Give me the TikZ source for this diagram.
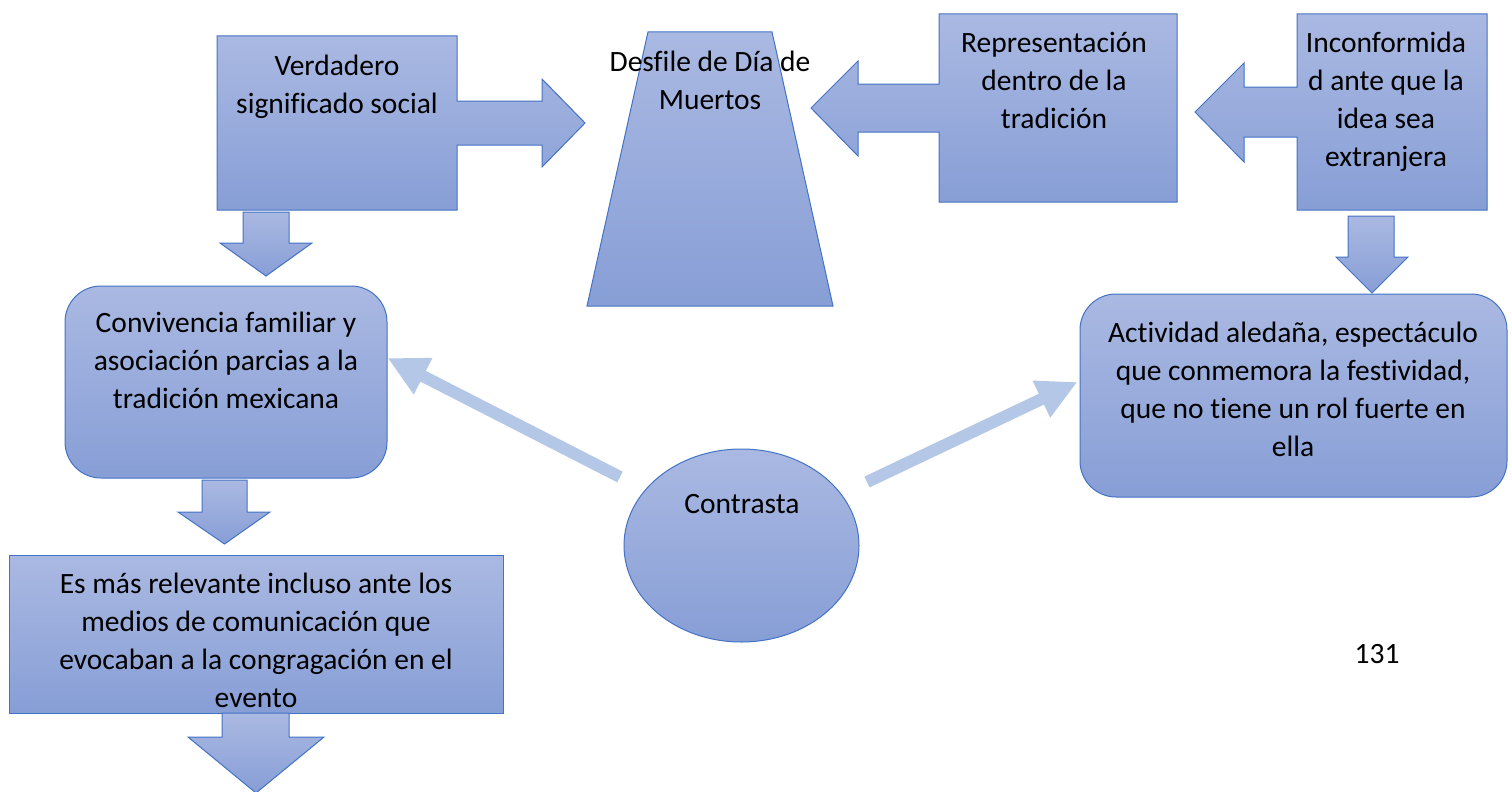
\documentclass[tikz,border=0pt]{standalone}
\usepackage{fontspec}
\setmainfont[Ligatures=NoCommon]{Carlito}
\usetikzlibrary{arrows.meta,shapes.geometric}
\definecolor{gtop}{RGB}{170,185,226}
\definecolor{gbot}{RGB}{135,158,214}
\definecolor{bordc}{RGB}{68,114,196}
\definecolor{connc}{RGB}{180,199,231}
\newcommand\firstln{\rule{0pt}{24pt}}
\begin{document}
\begin{tikzpicture}[x=1pt,y=-1pt,
  shp/.style={draw=bordc, line width=1pt, top color=gtop, bottom color=gbot, line join=miter},
  txt/.style={font=\fontsize{29.5}{38}\selectfont, align=center, inner sep=0pt, anchor=north, text=black},
  conn/.style={draw=connc, line width=12pt, -{Triangle[length=40pt 0 0, width=38pt 0 0]}}]
\fill[white] (0,0) rectangle (1512,792);
\useasboundingbox (0,0) rectangle (1512,792);

% Verdadero callout (right arrow)
\path[shp] (217,36) -- (457,36) -- (457,101) -- (542,101) -- (542,79) -- (585,123)
  -- (542,167) -- (542,145) -- (457,145) -- (457,210) -- (217,210) -- cycle;
% down arrow under Verdadero
\path[shp] (243,212) -- (289,212) -- (289,243) -- (312,243) -- (266,276) -- (220,243) -- (243,243) -- cycle;

% trapezoid
\path[shp] (648,32) -- (772,32) -- (833,306) -- (587,306) -- cycle;

% Representacion callout (left arrow)
\path[shp] (939,14) -- (1177,14) -- (1177,202) -- (939,202) -- (939,132) -- (858,132)
  -- (858,156) -- (811,108) -- (858,61) -- (858,84) -- (939,84) -- cycle;

% Inconformidad callout (left arrow)
\path[shp] (1297,14) -- (1487,14) -- (1487,210) -- (1297,210) -- (1297,137) -- (1244,137)
  -- (1244,162) -- (1195,112) -- (1244,63) -- (1244,87) -- (1297,87) -- cycle;
% down arrow under Inconformidad
\path[shp] (1348,216) -- (1394,216) -- (1394,257) -- (1408,257) -- (1372,293) -- (1336,257) -- (1348,257) -- cycle;

% rounded rectangles
\node[shp, rectangle, rounded corners=36pt, minimum width=322pt, minimum height=192pt, inner sep=0pt] (conv) at (226,382) {};
\node[shp, rectangle, rounded corners=36pt, minimum width=427pt, minimum height=203pt, inner sep=0pt] (act) at (1293.5,395.5) {};

% down arrow under Convivencia
\path[shp] (202,480) -- (247,480) -- (247,512) -- (270,512) -- (224.5,544) -- (178,512) -- (202,512) -- cycle;

% Es mas box
\node[shp, rectangle, minimum width=494pt, minimum height=158pt, inner sep=0pt] (esmas) at (256,634) {};
% bottom arrow
\path[shp] (222,713) -- (289,713) -- (289,737) -- (324,737) -- (256,793) -- (188,737) -- (222,737) -- cycle;

% ellipse
\node[shp, ellipse, minimum width=235pt, minimum height=193pt, inner sep=0pt] (contr) at (741.5,545.5) {};

% texts
\node[txt] (tverd) at (337,51) {\firstln Verdadero\\significado social};
\node[txt] (tdesf) at (710,47) {\firstln Desfile de Día de\\Muertos};
\node[txt] (trepr) at (1054,28) {\firstln Representación\\dentro de la\\tradición};
\node[txt] (tinco) at (1386,28) {\firstln Inconformida\\d ante que la\\idea sea\\extranjera};
\node[txt] (tconv) at (226,308) {\firstln Convivencia familiar y\\asociación parcias a la\\tradición mexicana};
\node[txt] (tact) at (1293,318) {\firstln Actividad aledaña, espectáculo\\que conmemora la festividad,\\que no tiene un rol fuerte en\\ella};
\node[txt] (tesm) at (256,569) {\firstln Es más relevante incluso ante los\\medios de comunicación que\\evocaban a la congragación en el\\evento};
\node[txt] (tcontr) at (742,489) {\firstln Contrasta};
\node[txt] (tpage) at (1377,639) {\firstln 131};

% connectors
\coordinate (cLs) at (620,477);
\coordinate (cRs) at (867,482);
\draw[conn] (cLs) -- ([yshift=24pt]conv.east);
\draw[conn] (cRs) -- ([xshift=-2pt,yshift=13.5pt]act.west);
\end{tikzpicture}
\end{document}
